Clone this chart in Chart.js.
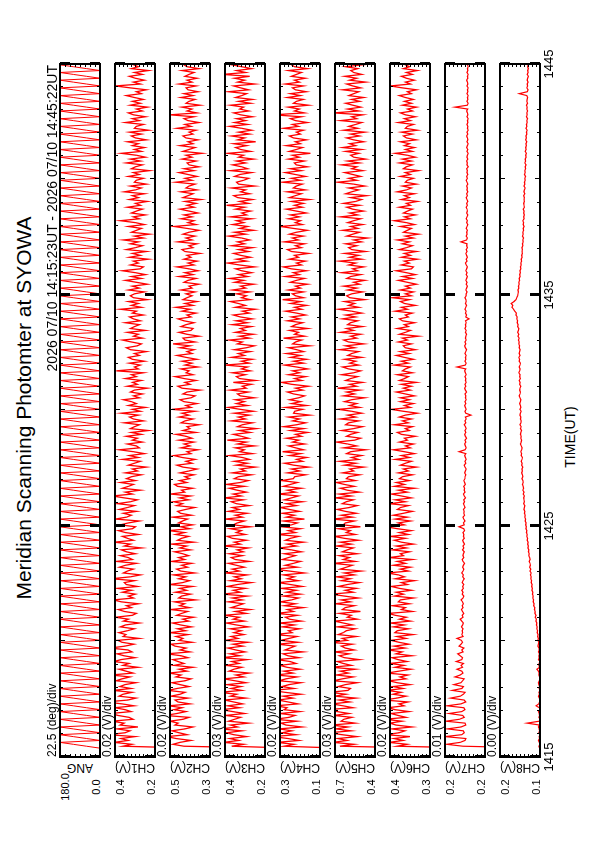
<!DOCTYPE html>
<html><head><meta charset="utf-8">
<script src="https://cdn.jsdelivr.net/npm/chart.js@4/dist/chart.umd.min.js"></script>
<style>
html,body{margin:0;padding:0;background:#fff;overflow:hidden;width:595px;height:842px;}
#page{position:absolute;left:0;top:0;width:842px;height:595px;transform-origin:0 0;transform:translate(0,842px) rotate(-90deg);font-family:"Liberation Sans",Arial,sans-serif;color:#000;}
.t{position:absolute;white-space:nowrap;line-height:1;}
canvas{position:absolute;}
</style></head><body><div id="page"></div>
<script>
// ---------------- data ----------------
const title = "Meridian Scanning Photomter at SYOWA";
const dateRange = "2026 07/10 14:15:23UT - 2026 07/10 14:45:22UT";
const timeAxisTitle = "TIME(UT)";
const panelNames = ["ANG","CH1(V)","CH2(V)","CH3(V)","CH4(V)","CH5(V)","CH6(V)","CH7(V)","CH8(V)"];
const perDivLabels = ["22.5 (deg)/div","0.02 (V)/div","0.02 (V)/div","0.03 (V)/div","0.02 (V)/div","0.03 (V)/div","0.02 (V)/div","0.01 (V)/div","0.00 (V)/div"];
const maxTickLabels = ["180.0","0.4","0.5","0.4","0.3","0.7","0.4","0.2","0.2"];
const minTickLabels = ["0.0","0.2","0.3","0.2","0.1","0.4","0.3","0.2","0.1"];
const scaleMin = [0, 200, 300, 200, 100, 400, 250, 150, 100];   // deg for ANG, mV for channels
const scaleMax = [180, 400, 500, 500, 300, 700, 450, 250, 200];
const divisions = [8,10,10,10,10,10,10,10,10];
const timeTickMinutes = [15,25,35,45];           // minutes after 14:00 UT
const timeTickLabels = ["1415","1425","1435","1445"];
const axisStartMin = 15, axisEndMin = 45;
const startSec = 923;  // first sample 14:15:23 (seconds after 14:00)
const stepSec = 5;     // sample spacing

const angDeg = [
0,60,120,180,0,60,120,180,0,60,120,180,0,60,120,180,0,60,120,180,0,60,120,180,0,60,120,180,0,60,120,180,0,60,120,180,0,60,120,180,
0,60,120,180,0,60,120,180,0,60,120,180,0,60,120,180,0,60,120,180,0,60,120,180,0,60,120,180,0,60,120,180,0,60,120,180,0,60,120,180,
0,60,120,180,0,60,120,180,0,60,120,180,0,60,120,180,0,60,120,180,0,60,120,180,0,60,120,180,0,60,120,180,0,60,120,180,0,60,120,180,
0,60,120,180,0,60,120,180,0,60,120,180,0,60,120,180,0,60,120,180,0,60,120,180,0,60,120,180,0,60,120,180,0,60,120,180,0,60,120,180,
0,60,120,180,0,60,120,180,0,60,120,180,0,60,120,180,0,60,120,180,0,60,120,180,0,60,120,180,0,60,120,180,0,60,120,180,0,60,120,180,
0,60,120,180,0,60,120,180,0,60,120,180,0,60,120,180,0,60,120,180,0,60,120,180,0,60,120,180,0,60,120,180,0,60,120,180,0,60,120,180,
0,60,120,180,0,60,120,180,0,60,120,180,0,60,120,180,0,60,120,180,0,60,120,180,0,60,120,180,0,60,120,180,0,60,120,180,0,60,120,180,
0,60,120,180,0,60,120,180,0,60,120,180,0,60,120,180,0,60,120,180,0,60,120,180,0,60,120,180,0,60,120,180,0,60,120,180,0,60,120,180,
0,60,120,180,0,60,120,180,0,60,120,180,0,60,120,180,0,60,120,180,0,60,120,180,0,60,120,180,0,60,120,180,0,60,120,180,0,60,120,180];

const ch1_mV = [0,
360,315,405,335,370,300,435,350,325,390,285,375,355,415,310,330,385,420,320,350,400,305,365,445,335,295,380,360,315,410,
320,375,350,295,395,365,325,420,310,345,380,285,360,330,405,370,300,355,390,315,335,425,350,305,365,385,280,360,345,380,
338,303,373,348,278,358,333,398,313,293,353,383,318,343,283,368,408,308,333,298,
363,318,388,288,343,353,303,418,323,273,358,338,308,378,348,293,393,313,333,373,
298,343,368,268,353,323,403,308,338,363,283,348,383,313,298,373,333,278,398,343,
318,358,293,378,338,303,388,323,288,353,413,313,348,273,363,333,308,373,298,343,
318,268,348,288,313,243,333,303,273,363,283,328,253,308,378,278,293,338,263,313,
288,343,268,318,233,323,303,278,353,258,308,328,283,368,273,313,248,333,293,318,
358,278,308,263,323,303,238,338,288,313,268,348,293,318,258,393,283,303,273,328,
253,313,333,278,303,243,323,343,288,268,318,363,263,308,283,338,248,323,303,278,
348,273,308,328,258,313,293,373,268,318,283,333,238,308,323,
303,253,333,278,313,238,293,348,268,318,248,298,363,273,258,323,283,308,233,328,
273,313,243,343,298,263,323,283,358,258,303,228,318,293,268,333,253,298,373,278,
308,248,318,293,263,338,273,298,238,328,283,313,253,353,298,268,323,243,303,293,
258,333,278,308,228,318,298,263,343,273,323,248,293,368,268,303,253,313,283,338,
243,298,318,268,328,233,303,293,258,348,278,313,248,308,333,263,293,238,323,273,
313,258,303,343,268,293,243,323,398,273,308,253,298,328,263,303,233,318,283,308,
263,328,278,303];

const ch2_mV = [0,
430,485,450,395,470,515,415,455,490,425,385,475,460,500,435,405,525,465,420,480,440,505,400,460,475,410,495,450,425,510,
465,405,450,490,425,395,470,445,505,415,455,385,480,430,460,485,410,445,515,400,450,420,475,495,390,455,435,470,410,500,
422,462,392,447,487,407,437,382,467,442,412,497,402,452,427,477,372,457,442,397,
472,417,452,387,502,437,402,457,422,482,377,447,467,412,442,392,492,427,457,407,
437,477,397,452,417,492,382,462,442,407,472,427,507,402,447,387,457,437,412,487,
392,447,462,422,377,467,437,482,407,452,397,497,427,442,387,462,477,417,452,402,
425,380,450,405,365,435,465,390,420,375,440,480,395,415,360,445,400,430,380,455,
390,420,470,370,435,400,415,355,445,425,385,455,405,440,375,490,395,420,365,430,
450,395,375,435,415,350,440,460,400,425,370,430,475,385,420,405,445,360,425,390,
440,365,420,465,390,415,380,450,400,485,375,425,435,355,415,455,395,385,445,420,
380,430,460,395,415,370,440,400,470,385,425,365,435,415,390,
420,375,445,390,405,355,430,410,370,455,385,425,360,405,465,380,410,365,430,395,
415,350,425,440,385,405,365,460,390,420,375,435,405,355,415,480,370,410,380,445,
390,430,360,405,450,380,415,370,425,345,435,410,385,445,365,420,405,375,470,390,
425,365,410,455,380,430,355,405,415,370,440,390,420,340,435,405,375,450,385,410,
360,420,435,385,405,370,465,395,425,355,410,430,380,500,365,415,390,440,350,420,
405,375,445,385,430,360,410,420,370,455,390,415,365,425,405,380,440,355,415,430,
385,425,370,410];

const ch3_mV = [0,
450,360,510,398,465,338,435,488,375,533,405,458,323,473,428,383,495,353,443,525,390,480,368,435,503,345,458,413,540,375,
455,380,485,343,425,508,358,418,320,470,433,373,493,395,448,335,523,388,463,350,418,478,365,440,328,500,403,455,358,433,
378,460,325,415,490,355,438,393,505,340,423,310,453,408,363,475,370,445,333,520,
385,438,348,483,408,303,460,378,430,333,498,393,445,355,415,475,318,423,453,370,
468,363,408,325,513,385,430,340,445,483,348,415,378,460,310,438,408,355,498,370,
423,333,475,393,445,318,415,453,363,505,378,438,340,408,468,355,490,385,325,430,
400,302,445,347,385,272,415,332,430,317,370,467,295,392,355,422,280,407,340,482,
325,377,437,310,392,265,407,370,295,452,347,400,317,430,287,385,475,332,415,355,
422,280,385,407,325,460,340,370,302,437,272,392,415,347,445,310,377,332,497,317,
377,295,452,355,400,310,430,340,280,407,370,467,317,392,287,422,347,385,302,445,
332,415,295,385,437,317,370,272,422,347,400,460,310,377,340,
413,315,443,345,383,285,428,360,465,330,398,300,375,420,278,390,480,338,413,308,
383,435,323,398,293,450,353,405,315,375,473,345,428,285,390,330,443,360,413,300,
458,338,375,308,420,353,488,323,390,293,405,435,315,383,345,450,278,398,413,360,
323,428,390,300,458,330,375,443,345,413,285,398,360,480,308,383,420,338,435,270,
405,353,450,315,398,300,375,465,330,428,345,413,293,383,435,323,390,360,458,308,
398,293,420,375,338,473,323,383,435,278,405,353,428,315,518,345,413,300,375,450,
330,390,308,413];

const ch4_mV = [0,
280,230,315,205,260,335,220,290,240,305,190,270,295,215,325,255,225,300,200,280,265,320,210,260,310,235,285,195,275,340,
230,290,255,195,305,270,215,320,235,280,200,265,300,220,250,315,205,260,285,185,275,250,225,310,210,295,255,215,325,240,
258,203,288,228,303,193,253,273,213,318,233,263,183,278,223,298,243,208,283,198,
268,218,293,188,248,308,208,263,228,283,178,253,328,213,273,233,198,288,258,223,
278,193,243,303,218,263,183,273,248,208,313,223,258,198,293,243,213,283,178,268,
228,288,203,253,298,218,268,188,278,243,208,308,223,263,193,283,248,213,293,233,
227,172,262,202,242,157,232,277,187,217,167,252,197,287,182,222,257,177,237,207,
267,192,222,162,247,182,282,217,172,237,202,257,152,232,227,187,272,167,242,197,
252,207,177,232,262,187,222,157,242,292,192,227,172,257,202,237,162,217,277,182,
232,167,247,197,267,182,217,257,152,237,222,192,282,177,227,207,252,162,242,222,
187,262,202,242,172,217,272,192,227,167,247,197,287,182,222,
238,183,258,198,223,163,248,218,178,273,203,233,168,243,283,193,218,173,253,208,
228,158,243,263,193,223,178,278,208,238,183,253,218,163,233,298,188,223,198,258,
203,248,168,218,268,188,228,183,243,153,253,223,193,263,173,233,218,188,288,198,
243,173,223,273,193,248,163,218,228,178,258,203,238,148,253,218,188,268,198,223,
168,233,253,198,218,183,283,208,238,163,223,248,193,333,178,228,203,258,158,233,
218,183,263,198,248,168,223,238,183,273,203,228,173,243,218,193,258,163,228,243,
198,243,178,223];

const ch5_mV = [0,
663,558,715,610,678,535,648,745,580,693,603,730,550,655,633,573,708,595,685,760,565,640,723,588,670,543,700,618,738,603,
585,675,623,533,713,645,563,690,600,660,548,728,578,638,683,518,630,668,593,705,555,623,653,570,735,608,645,540,675,638,
615,548,683,570,638,705,533,608,578,668,510,645,623,555,698,585,653,525,630,728,
563,623,540,675,608,518,653,585,690,555,630,503,660,615,570,713,548,638,593,668,
533,645,608,563,690,578,660,525,630,705,548,615,585,675,510,638,623,555,720,570,
653,540,623,683,593,533,645,615,563,698,578,668,518,608,660,555,630,690,548,615,
598,515,643,560,590,485,628,545,665,523,575,500,613,583,470,635,538,605,688,553,
508,613,583,530,650,560,493,620,598,523,658,545,605,500,575,673,515,590,538,628,
575,478,635,553,613,515,680,538,590,493,620,583,530,650,560,508,598,643,523,590,
545,628,500,605,575,523,665,553,620,485,598,635,538,583,508,658,560,613,493,605,
583,530,643,545,620,500,575,673,523,598,553,628,478,590,613,
575,492,605,537,635,515,560,477,612,582,507,650,530,567,485,597,545,665,500,590,
522,627,470,575,597,537,620,500,560,455,612,567,515,642,530,582,492,605,560,507,
657,530,590,485,567,612,515,635,545,500,582,462,620,575,522,597,477,560,680,537,
597,507,567,627,492,575,537,650,515,605,470,560,582,522,620,500,642,545,590,485,
560,612,515,582,477,635,530,597,545,500,657,537,575,492,710,522,605,507,567,620,
515,575,485,597,560,522,642,507,567,612,470,590,537,627,500,560,582,530,620,492,
582,537,605,515];

const ch6_mV = [0,
415,365,455,385,430,350,470,405,375,440,340,420,450,390,475,370,410,445,355,425,460,380,405,360,480,415,370,435,395,465,
385,435,350,415,455,370,400,360,465,405,345,425,380,450,365,410,440,340,420,390,460,375,430,355,405,445,370,415,335,425,
413,358,433,378,448,348,403,368,423,458,338,393,373,438,353,408,398,333,428,383,
418,343,403,443,363,393,328,423,378,408,463,358,398,348,433,373,413,338,453,383,
398,353,438,368,418,333,393,428,373,448,358,403,343,413,468,378,408,348,423,363,
433,383,338,413,398,358,453,373,423,343,393,443,363,408,328,428,378,418,353,403,
388,338,408,358,383,318,398,373,343,423,353,393,328,378,433,348,373,333,403,363,
378,323,393,413,353,373,338,428,358,388,343,403,373,313,383,443,348,378,333,398,
353,398,328,373,418,348,383,343,393,318,403,378,358,413,338,388,373,348,428,358,
393,333,378,418,353,398,323,373,383,343,408,363,388,308,403,373,348,413,358,378,
328,388,403,358,373,338,423,363,393,323,378,398,353,438,343,
373,333,398,348,373,318,363,408,338,388,323,368,418,343,333,393,353,378,313,393,
348,378,318,403,368,338,388,353,413,333,373,308,383,363,343,398,328,368,428,348,
378,323,383,363,338,403,348,368,313,393,353,378,328,413,368,343,388,318,373,363,
333,398,348,373,308,383,368,338,403,343,388,323,363,423,338,373,328,378,353,398,
318,368,383,338,393,313,373,363,333,408,348,378,323,373,398,338,363,318,388,343,
378,333,373,403,343,363,318,388,448,348,373,328,368,393,338,368,313,383,353,373,
338,388,348,373];

const ch7_mV = [0,
205,246,212,200,198,250,208,202,204,244,210,198,200,248,214,202,206,240,208,200,203,245,210,198,202,236,212,204,200,232,
208,204,228,210,206,202,225,212,205,208,220,206,210,204,222,208,206,212,218,205,208,203,215,210,206,209,220,205,208,206,
207,205,209,206,204,208,212,205,207,203,206,209,205,207,204,206,210,205,203,207,
205,208,204,206,203,207,205,202,206,204,208,205,203,206,204,201,205,207,203,205,
204,202,206,203,205,201,204,206,202,204,203,205,201,203,215,202,204,200,203,205,
201,203,202,204,200,202,204,201,203,199,202,204,200,202,201,203,199,201,203,200,
200,198,201,199,197,200,202,198,200,197,199,201,198,215,200,197,199,201,198,200,
196,199,201,198,200,197,199,202,198,200,197,199,185,198,200,197,199,201,198,200,
197,199,198,200,196,199,201,198,200,197,199,198,200,197,199,201,198,220,199,197,
200,198,199,197,200,198,196,199,201,198,200,197,199,198,196,199,197,200,198,199,
197,199,190,198,196,199,197,200,198,196,199,197,198,200,197,
197,195,198,196,194,197,195,198,196,194,197,195,198,196,194,197,199,195,197,194,
196,198,195,197,194,196,195,210,196,194,197,195,196,194,197,195,193,196,194,197,
195,193,196,194,195,197,194,196,193,195,197,194,196,193,195,194,196,193,195,197,
194,196,193,195,194,196,192,195,194,196,193,195,194,192,195,193,196,194,192,195,
193,194,196,193,195,192,194,193,195,193,194,192,195,193,194,196,193,225,194,192,
195,193,194,192,195,193,194,192,195,193,194,196,193,194,192,195,193,194,192,194,
193,195,192,194];

const ch8_mV = [
101,103,100,102,104,101,102,100,103,101,102,104,101,132,102,100,103,101,102,104,
100,102,110,103,101,100,102,104,101,103,100,102,101,103,104,102,100,101,103,102,
104,108,101,103,102,100,104,102,103,101,104,102,103,105,104,103,
105,104,106,105,107,106,108,107,109,108,110,109,112,110,113,112,114,113,116,115,
117,116,118,117,119,118,120,119,121,120,122,121,123,122,124,122,125,123,126,124,
125,127,125,
126,128,127,129,128,130,129,131,130,132,131,133,132,134,133,135,134,136,135,137,
136,138,137,139,138,140,139,138,141,139,140,
141,139,142,140,143,141,142,144,142,143,145,143,144,146,144,145,143,146,145,147,
145,144,147,146,148,146,145,147,149,147,146,148,147,149,148,146,149,147,150,148,
147,149,148,150,149,147,150,148,149,151,149,148,150,152,150,149,151,150,148,151,
150,152,149,151,150,153,151,150,152,150,149,152,151,153,150,152,151,150,
152,151,153,152,154,152,155,153,156,154,153,156,155,157,156,158,157,160,159,163,
166,170,168,172,165,160,158,156,
155,154,155,153,154,152,153,151,152,150,151,149,150,148,149,147,148,146,147,145,146,144,145,
144,145,143,144,142,143,141,144,142,143,141,142,140,142,141,143,140,141,139,141,
140,142,139,140,141,139,140,
139,141,138,140,139,137,140,138,139,137,138,136,139,137,138,136,137,135,138,136,
137,135,136,134,137,135,136,134,135,133,136,134,135,133,134,132,135,133,134,132,
133,131,134,132,133,131,133,132,134,131,133,132,
131,133,152,132,130,133,131,132,130,132,131,129,132,130,131,129,131,130,132,129,131,130];

const seriesList = [angDeg, ch1_mV, ch2_mV, ch3_mV, ch4_mV, ch5_mV, ch6_mV, ch7_mV, ch8_mV];
const traceWidths = [1, 1.3, 1.3, 1.3, 1.3, 1.3, 1.3, 1.2, 1.2];

// ---------------- layout (landscape sheet, rotated onto the portrait page) ----------------
const PLOT_LEFT = 85, PLOT_W = 693, PANEL_TOP0 = 60, PANEL_GAP = 55, PANEL_H = 40, PAD = 4;
const page = document.getElementById('page');

function addText(str, x, y, size, tr) {
  const d = document.createElement('div');
  d.className = 't';
  d.textContent = str;
  d.style.left = x + 'px';
  d.style.top = y + 'px';
  d.style.fontSize = size + 'px';
  d.style.transform = tr;
  page.appendChild(d);
  return d;
}

const framePlugin = {
  id: 'frame',
  afterDatasetsDraw(chart, args, opts) {
    const {ctx, chartArea: a} = chart;
    const xs = chart.scales.x, ys = chart.scales.y;
    ctx.save();
    ctx.strokeStyle = '#000';
    for (let m = axisStartMin; m <= axisEndMin; m++) {
      const px = Math.round(xs.getPixelForValue(m)) + 0.5;
      let len = 3, lw = 1;
      if (m % 10 === 5) { len = 10; lw = 3; }
      else if (m % 5 === 0) { len = 5; lw = 1; }
      ctx.lineWidth = lw;
      ctx.beginPath();
      ctx.moveTo(px, a.top); ctx.lineTo(px, a.top + len);
      ctx.moveTo(px, a.bottom); ctx.lineTo(px, a.bottom - len);
      ctx.stroke();
    }
    ctx.lineWidth = 1;
    const lo = opts.lo, hi = opts.hi, n = opts.divs;
    for (let j = 1; j < n; j++) {
      const py = Math.round(ys.getPixelForValue(lo + j * (hi - lo) / n)) + 0.5;
      ctx.beginPath();
      ctx.moveTo(a.left, py); ctx.lineTo(a.left + 3, py);
      ctx.moveTo(a.right, py); ctx.lineTo(a.right - 3, py);
      ctx.stroke();
    }
    ctx.lineWidth = 2;
    ctx.strokeRect(a.left, a.top, a.right - a.left, a.bottom - a.top);
    ctx.restore();
  }
};

let lastChart = null;
seriesList.forEach((vals, k) => {
  const top = PANEL_TOP0 + k * PANEL_GAP;
  const cv = document.createElement('canvas');
  cv.width = PLOT_W + 2 * PAD; cv.height = PANEL_H + 2 * PAD;
  cv.style.left = (PLOT_LEFT - PAD) + 'px';
  cv.style.top = (top - PAD) + 'px';
  cv.style.width = (PLOT_W + 2 * PAD) + 'px';
  cv.style.height = (PANEL_H + 2 * PAD) + 'px';
  page.appendChild(cv);
  const pts = vals.map((v, i) => ({x: (startSec + i * stepSec) / 60, y: v}));
  const chart = new Chart(cv, {
    type: 'line',
    data: {datasets: [{data: pts, borderColor: '#ff0000', borderWidth: traceWidths[k], pointRadius: 0, tension: 0, fill: false}]},
    options: {
      responsive: false, animation: false, devicePixelRatio: 1,
      layout: {padding: PAD},
      plugins: {legend: {display: false}, tooltip: {enabled: false},
                frame: {lo: scaleMin[k], hi: scaleMax[k], divs: divisions[k]}},
      scales: {
        x: {type: 'linear', min: axisStartMin, max: axisEndMin, display: false},
        y: {type: 'linear', min: scaleMin[k], max: scaleMax[k], display: false}
      }
    },
    plugins: [framePlugin]
  });
  const offY = top - PAD;
  const yTop = chart.scales.y.getPixelForValue(scaleMax[k]) + offY;
  const yBot = chart.scales.y.getPixelForValue(scaleMin[k]) + offY;
  addText(maxTickLabels[k], 55, yTop - 0.5, 11, 'translate(-50%,0)');
  addText(minTickLabels[k], 55, yBot - 9, 11, 'translate(-50%,0)');
  addText(panelNames[k], 74, (yTop + yBot) / 2, 12, 'translate(-50%,-50%) rotate(-90deg)');
  addText(perDivLabels[k], PLOT_LEFT, top - 8, 12, 'translate(0,-50%)');
  lastChart = chart;
});

timeTickMinutes.forEach((m, i) => {
  const x = lastChart.scales.x.getPixelForValue(m) + PLOT_LEFT - PAD;
  addText(timeTickLabels[i], x, 548, 13, 'translate(-50%,-50%)');
});
addText(timeAxisTitle, 405, 570, 14, 'translate(-50%,-50%)');
addText(title, 434, 23, 21, 'translate(-50%,-50%)');
addText(dateRange, PLOT_LEFT + PLOT_W - 1, 52, 14, 'translate(-100%,-50%)');
</script></body></html>
